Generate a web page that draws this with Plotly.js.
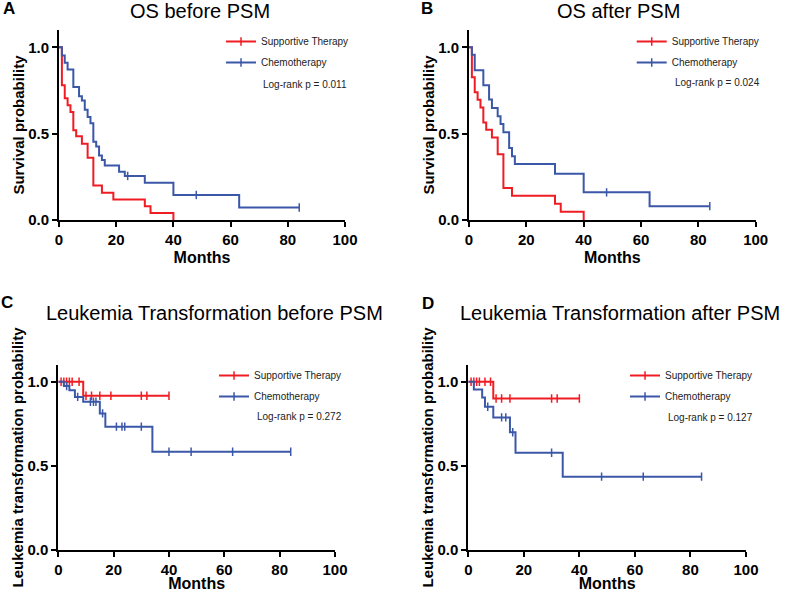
<!DOCTYPE html>
<html><head><meta charset="utf-8">
<script src="https://cdn.plot.ly/plotly-3.0.1.min.js"></script>
<style>html,body{margin:0;padding:0;background:#fff}#chart{width:786px;height:592px}</style>
</head><body><div id="chart"></div>
<script>
// ---------- text ----------
const panelLetters = ['A', 'B', 'C', 'D'];
const panelTitles = ['OS before PSM', 'OS after PSM', 'Leukemia Transformation before PSM', 'Leukemia Transformation after PSM'];
const yTitles = ['Survival probability', 'Survival probability', 'Leukemia transformation probability', 'Leukemia transformation probability'];
const xTitle = 'Months';
const logRankTexts = ['Log-rank p = 0.011', 'Log-rank p = 0.024', 'Log-rank p = 0.272', 'Log-rank p = 0.127'];
const seriesNames = ['Supportive Therapy', 'Chemotherapy'];
const xTickVals = [0, 20, 40, 60, 80, 100];
const yTickVals = [0, 0.5, 1.0];

// ---------- data (event times, survival after event, censor times) ----------
// Panel A: OS before PSM
const aSupTimes  = [1, 2, 3, 4, 5, 6, 8, 10, 12, 15, 19, 30, 32, 40];
const aSupSurv   = [0.78, 0.705, 0.665, 0.625, 0.52, 0.485, 0.442, 0.36, 0.2, 0.157, 0.118, 0.079, 0.04, 0];
const aSupCensor = [];
const aChemoTimes  = [1, 2, 3, 5, 7, 8, 9, 10, 11, 12, 13, 14, 15, 16, 21, 23, 30, 40, 63];
const aChemoSurv   = [0.952, 0.91, 0.872, 0.77, 0.716, 0.692, 0.638, 0.596, 0.56, 0.453, 0.426, 0.373, 0.348, 0.315, 0.28, 0.255, 0.215, 0.145, 0.072];
const aChemoCensor = [24, 48, 84];
// Panel B: OS after PSM
const bSupTimes  = [1, 2, 3, 4, 5, 6, 8, 10, 12, 15, 30, 32, 40];
const bSupSurv   = [0.826, 0.739, 0.696, 0.652, 0.565, 0.522, 0.478, 0.38, 0.185, 0.141, 0.094, 0.047, 0];
const bSupCensor = [];
const bChemoTimes  = [1, 2, 5, 7, 8, 10, 11, 12, 14, 15, 16, 30, 40, 63];
const bChemoSurv   = [0.957, 0.867, 0.78, 0.697, 0.649, 0.6, 0.556, 0.508, 0.417, 0.369, 0.324, 0.268, 0.16, 0.08];
const bChemoCensor = [48, 84];
// Panel C: Leukemia transformation before PSM
const cSupTimes  = [9];
const cSupSurv   = [0.917];
const cSupCensor = [1, 2, 3, 4, 5, 7.5, 10, 12, 15, 19, 30, 32, 40];
const cChemoTimes  = [2, 4, 6, 9, 15, 17, 34];
const cChemoSurv   = [0.974, 0.95, 0.91, 0.881, 0.812, 0.733, 0.584];
const cChemoCensor = [3, 7, 11.6, 12.7, 13.6, 16, 21, 23, 24, 30, 40, 48, 63, 84];
// Panel D: Leukemia transformation after PSM
const dSupTimes  = [9];
const dSupSurv   = [0.9];
const dSupCensor = [1, 2, 3, 4, 6, 8, 10, 12, 15, 30, 32, 40];
const dChemoTimes  = [2, 5, 6, 9, 15, 17, 34];
const dChemoSurv   = [0.954, 0.907, 0.851, 0.788, 0.7, 0.578, 0.436];
const dChemoCensor = [7, 12, 13.5, 16, 30, 48, 63, 84];

// ---------- styling ----------
const RED = '#ef1c24';
const BLUE = '#3b57a8';
const FONT = 'Arial, "Liberation Sans", Helvetica, sans-serif';

const panels = [
  {sup: [aSupTimes, aSupSurv, aSupCensor], chemo: [aChemoTimes, aChemoSurv, aChemoCensor]},
  {sup: [bSupTimes, bSupSurv, bSupCensor], chemo: [bChemoTimes, bChemoSurv, bChemoCensor]},
  {sup: [cSupTimes, cSupSurv, cSupCensor], chemo: [cChemoTimes, cChemoSurv, cChemoCensor]},
  {sup: [dSupTimes, dSupSurv, dSupCensor], chemo: [dChemoTimes, dChemoSurv, dChemoCensor]}
];

// plot-area geometry (paper fractions)
const geom = [
  {x: [0.0751, 0.4389], y: [0.6284, 0.9493]},
  {x: [0.5967, 0.9614], y: [0.6284, 0.9493]},
  {x: [0.0742, 0.4262], y: [0.0709, 0.3836]},
  {x: [0.5958, 0.9491], y: [0.0709, 0.3836]}
];
const titlePos = [[0.2545, 0.9814], [0.7863, 0.9814], [0.2723, 0.4713], [0.7894, 0.4713]];
const letterPos = [[0.0115, 0.9848], [0.5433, 0.9848], [0.0089, 0.4882], [0.5439, 0.4865]];
const logRankPos = [[0.3321, 0.8581], [0.8559, 0.8598], [0.3244, 0.2961], [0.8473, 0.2956]];
const legendPos = [[0.2812, 0.9544], [0.8037, 0.9544], [0.2723, 0.3902], [0.7952, 0.3902]];

function stepValue(times, surv, t) {
  let v = 1;
  for (let i = 0; i < times.length; i++) { if (times[i] <= t) v = surv[i]; }
  return v;
}

const traces = [];
const layout = {
  width: 786, height: 592,
  margin: {l: 0, r: 0, t: 0, b: 0},
  paper_bgcolor: '#ffffff', plot_bgcolor: 'rgba(0,0,0,0)',
  font: {family: FONT, color: '#000'},
  showlegend: true,
  annotations: [],
  hovermode: false
};

panels.forEach((p, k) => {
  const n = k + 1;
  const xa = n === 1 ? 'x' : 'x' + n;
  const ya = n === 1 ? 'y' : 'y' + n;
  const legName = n === 1 ? 'legend' : 'legend' + n;
  [[p.sup, RED, seriesNames[0]], [p.chemo, BLUE, seriesNames[1]]].forEach(([d, color, name], j) => {
    const [times, surv, censor] = d;
    const end = Math.max(...times, ...(censor.length ? censor : [0]));
    const xs = [0].concat(times);
    const ys = [1].concat(surv);
    if (end > times[times.length - 1]) { xs.push(end); ys.push(surv[surv.length - 1]); }
    traces.push({
      type: 'scatter', mode: 'lines', x: xs, y: ys, xaxis: xa, yaxis: ya,
      line: {shape: 'hv', color: color, width: 2}, showlegend: false, hoverinfo: 'skip'
    });
    if (censor.length) {
      traces.push({
        type: 'scatter', mode: 'markers', x: censor, y: censor.map(t => stepValue(times, surv, t)),
        xaxis: xa, yaxis: ya, showlegend: false, hoverinfo: 'skip',
        marker: {symbol: 'line-ns', size: 6, color: color, line: {color: color, width: 1.5}}
      });
    }
    // legend entry
    traces.push({
      type: 'scatter', mode: 'lines+markers', x: [null], y: [null], xaxis: xa, yaxis: ya,
      name: name, legend: legName, legendgroup: 'g' + n + j, showlegend: true,
      line: {color: color, width: 2},
      marker: {symbol: 'line-ns', size: 6, color: color, line: {color: color, width: 1.5}}
    });
  });

  const axBase = {
    showline: true, linecolor: '#000', linewidth: 2, showgrid: false, zeroline: false,
    ticks: 'outside', ticklen: 5, tickwidth: 2, tickcolor: '#000',
    tickfont: {family: FONT, size: 15, color: '#000', weight: 'bold'}
  };
  layout['xaxis' + (n === 1 ? '' : n)] = Object.assign({}, axBase, {
    domain: geom[k].x, anchor: ya, range: [0, 100], tickvals: xTickVals,
    title: {text: xTitle, font: {family: FONT, size: 16, color: '#000', weight: 'bold'}, standoff: 5}
  });
  layout['yaxis' + (n === 1 ? '' : n)] = Object.assign({}, axBase, {
    domain: geom[k].y, anchor: xa, range: [0, 1.1], tickvals: yTickVals, tickformat: '.1f',
    title: {text: yTitles[k], font: {family: FONT, size: 15, color: '#000', weight: 'bold'}, standoff: 0}
  });
  layout[legName] = {
    x: legendPos[k][0], y: legendPos[k][1], xanchor: 'left', yanchor: 'top',
    bgcolor: 'rgba(0,0,0,0)', borderwidth: 0, traceorder: 'grouped', tracegroupgap: 2,
    font: {family: FONT, size: 10, color: '#222'}
  };
  layout.annotations.push({
    xref: 'paper', yref: 'paper', x: titlePos[k][0], y: titlePos[k][1], xanchor: 'center', yanchor: 'middle',
    text: panelTitles[k], showarrow: false, font: {family: FONT, size: 20, color: '#000'}
  });
  layout.annotations.push({
    xref: 'paper', yref: 'paper', x: letterPos[k][0], y: letterPos[k][1], xanchor: 'center', yanchor: 'middle',
    text: '<b>' + panelLetters[k] + '</b>', showarrow: false, font: {family: FONT, size: 17, color: '#000'}
  });
  layout.annotations.push({
    xref: 'paper', yref: 'paper', x: logRankPos[k][0], y: logRankPos[k][1], xanchor: 'left', yanchor: 'middle',
    text: logRankTexts[k], showarrow: false, font: {family: FONT, size: 10, color: '#222'}
  });
});

Plotly.newPlot('chart', traces, layout, {displayModeBar: false, staticPlot: true});
</script>
</body></html>
